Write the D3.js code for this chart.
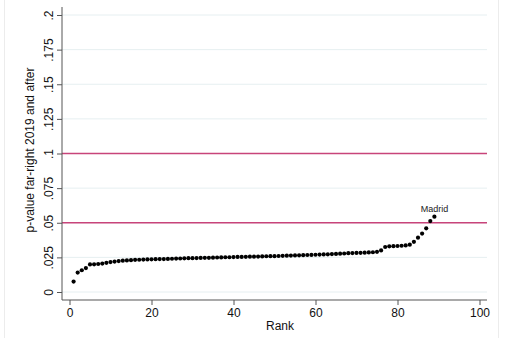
<!DOCTYPE html>
<html>
<head>
<meta charset="utf-8">
<script src="https://cdn.jsdelivr.net/npm/d3@7"></script>
<style>
  body { margin: 0; background: #fff; }
  text { font-family: "Liberation Sans", Arial, sans-serif; }
</style>
</head>
<body>
<div id="chart"></div>
<script>
// p-values sorted by rank (rank 1..89)
const pValues = [
  0.0075, 0.0140, 0.0157, 0.0173, 0.0199, 0.0200, 0.0202, 0.0205, 0.0211, 0.0216,
  0.0220, 0.0223, 0.0226, 0.0228, 0.0230, 0.0232, 0.0233, 0.0234, 0.0235, 0.0236,
  0.0237, 0.0238, 0.0238, 0.0239, 0.0240, 0.0241, 0.0242, 0.0243, 0.0244, 0.0244,
  0.0245, 0.0246, 0.0247, 0.0247, 0.0248, 0.0249, 0.0250, 0.0251, 0.0251, 0.0252,
  0.0253, 0.0253, 0.0254, 0.0255, 0.0255, 0.0256, 0.0257, 0.0258, 0.0259, 0.0259,
  0.0260, 0.0261, 0.0262, 0.0263, 0.0264, 0.0265, 0.0266, 0.0267, 0.0268, 0.0269,
  0.0270, 0.0271, 0.0272, 0.0274, 0.0275, 0.0277, 0.0278, 0.0280, 0.0281, 0.0282,
  0.0283, 0.0284, 0.0286, 0.0287, 0.0290, 0.0300, 0.0325, 0.0330, 0.0331, 0.0332,
  0.0334, 0.0336, 0.0342, 0.0362, 0.0392, 0.0422, 0.0460, 0.0512, 0.0544
];
const labelRank = 89;
const labelText = "Madrid";
const refLines = [0.05, 0.1];
const xTicks = [0, 20, 40, 60, 80, 100];
const yTicks = [0, 0.025, 0.05, 0.075, 0.1, 0.125, 0.15, 0.175, 0.2];
const xTitle = "Rank";
const yTitle = "p-value far-right 2019 and after";

const data = pValues.map((v, i) => ({ rank: i + 1, p: v }));

/** CONSTANTS */
const width = 507;
const height = 338;
const plot = { left: 62, right: 487, top: 7, bottom: 300 };
const pad = 7.5;

/** SCALES */
const xScale = d3.scaleLinear()
  .domain([0, 100])
  .range([plot.left + pad, plot.right - pad]);

const yScale = d3.scaleLinear()
  .domain([0, 0.2])
  .range([plot.bottom - 8, plot.top + 8]);

/** DRAWING ELEMENTS */
const svg = d3.select("#chart")
  .append("svg")
  .attr("width", width)
  .attr("height", height);

// faint outer graph frame
svg.append("rect")
  .attr("x", 4.5).attr("y", -20)
  .attr("width", 494).attr("height", height + 40)
  .attr("fill", "none")
  .attr("stroke", "#ececec");

// gridlines
svg.selectAll("line.grid")
  .data(yTicks)
  .join("line")
  .attr("class", "grid")
  .attr("x1", plot.left).attr("x2", plot.right)
  .attr("y1", d => yScale(d)).attr("y2", d => yScale(d))
  .attr("stroke", "#e6eff1")
  .attr("stroke-width", 1);

// reference lines
svg.selectAll("line.ref")
  .data(refLines)
  .join("line")
  .attr("class", "ref")
  .attr("x1", plot.left).attr("x2", plot.right)
  .attr("y1", d => yScale(d)).attr("y2", d => yScale(d))
  .attr("stroke", "#c8447a")
  .attr("stroke-width", 1.6);

// y axis
const yAxis = d3.axisLeft(yScale)
  .tickValues(yTicks)
  .tickSize(5)
  .tickFormat(d => d === 0 ? "0" : d3.format(".3~f")(d).replace(/^0/, ""));

const gy = svg.append("g")
  .attr("transform", `translate(${plot.left},0)`)
  .call(yAxis);
gy.select(".domain")
  .attr("d", `M0,${plot.top}V${plot.bottom}`)
  .attr("stroke", "#555");
gy.selectAll(".tick line").attr("stroke", "#555");
gy.selectAll(".tick text")
  .attr("font-size", 12)
  .attr("fill", "#111")
  .attr("x", 0).attr("dy", 0)
  .attr("text-anchor", "middle")
  .attr("transform", "translate(-9,0) rotate(-90)");

// x axis
const xAxis = d3.axisBottom(xScale)
  .tickValues(xTicks)
  .tickSize(5)
  .tickFormat(d3.format("d"));

const gx = svg.append("g")
  .attr("transform", `translate(0,${plot.bottom})`)
  .call(xAxis);
gx.select(".domain")
  .attr("d", `M${plot.left},0H${plot.right}`)
  .attr("stroke", "#555");
gx.selectAll(".tick line").attr("stroke", "#555");
gx.selectAll(".tick text")
  .attr("font-size", 12)
  .attr("fill", "#111")
  .attr("y", 8);

// axis titles
svg.append("text")
  .attr("x", (plot.left + plot.right) / 2 + pad - 2)
  .attr("y", 330)
  .attr("text-anchor", "middle")
  .attr("font-size", 12)
  .attr("fill", "#111")
  .text(xTitle);

svg.append("text")
  .attr("transform", "translate(34,150) rotate(-90)")
  .attr("text-anchor", "middle")
  .attr("font-size", 12)
  .attr("fill", "#111")
  .text(yTitle);

// points
svg.selectAll("circle.pt")
  .data(data)
  .join("circle")
  .attr("class", "pt")
  .attr("cx", d => xScale(d.rank))
  .attr("cy", d => yScale(d.p))
  .attr("r", 2.1)
  .attr("fill", "#000");

// marker label
const lab = data.find(d => d.rank === labelRank);
svg.append("text")
  .attr("x", xScale(lab.rank))
  .attr("y", yScale(lab.p) - 5)
  .attr("text-anchor", "middle")
  .attr("font-size", 9)
  .attr("fill", "#222")
  .text(labelText);
</script>
</body>
</html>
